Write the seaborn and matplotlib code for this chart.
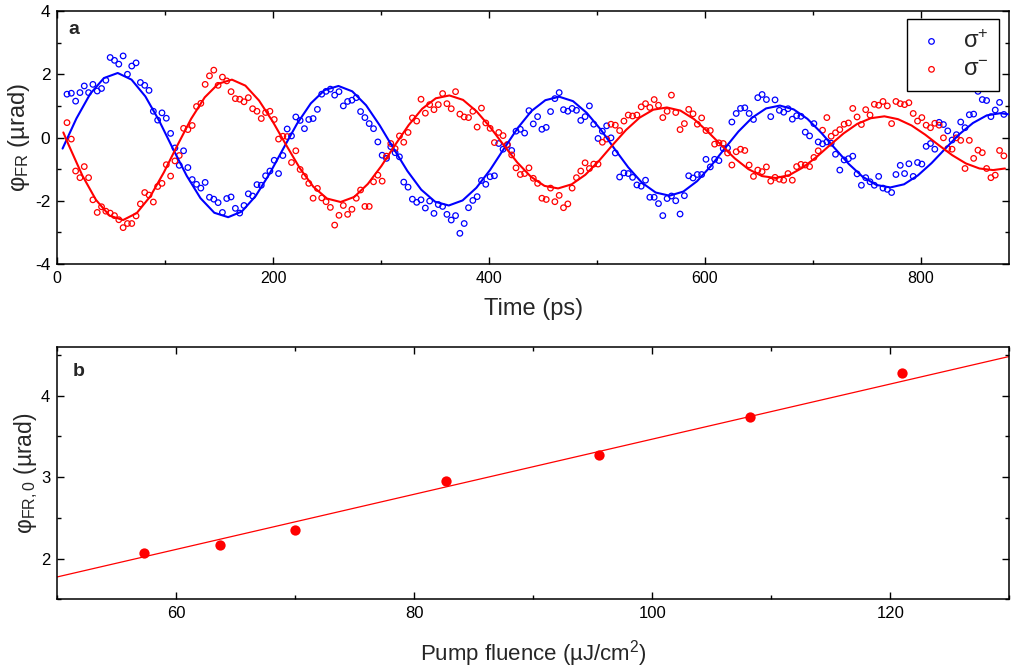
import numpy as np
import pandas as pd
import matplotlib
matplotlib.use("Agg")
import matplotlib.pyplot as plt
from matplotlib.ticker import MultipleLocator
import seaborn as sns

# ---------------- data ----------------
time_ps = [
    9, 13, 17, 21, 25, 29, 33, 37, 41, 45,
    49, 53, 57, 61, 65, 69, 73, 77, 81, 85,
    89, 93, 97, 101, 105, 109, 113, 117, 121, 125,
    129, 133, 137, 141, 145, 149, 153, 157, 161, 165,
    169, 173, 177, 181, 185, 189, 193, 197, 201, 205,
    209, 213, 217, 221, 225, 229, 233, 237, 241, 245,
    249, 253, 257, 261, 265, 269, 273, 277, 281, 285,
    289, 293, 297, 301, 305, 309, 313, 317, 321, 325,
    329, 333, 337, 341, 345, 349, 353, 357, 361, 365,
    369, 373, 377, 381, 385, 389, 393, 397, 401, 405,
    409, 413, 417, 421, 425, 429, 433, 437, 441, 445,
    449, 453, 457, 461, 465, 469, 473, 477, 481, 485,
    489, 493, 497, 501, 505, 509, 513, 517, 521, 525,
    529, 533, 537, 541, 545, 549, 553, 557, 561, 565,
    569, 573, 577, 581, 585, 589, 593, 597, 601, 605,
    609, 613, 617, 621, 625, 629, 633, 637, 641, 645,
    649, 653, 657, 661, 665, 669, 673, 677, 681, 685,
    689, 693, 697, 701, 705, 709, 713, 717, 721, 725,
    729, 733, 737, 741, 745, 749, 753, 757, 761, 765,
    769, 773, 777, 781, 785, 789, 793, 797, 801, 805,
    809, 813, 817, 821, 825, 829, 833, 837, 841, 845,
    849, 853, 857, 861, 865, 869, 873, 877,
]

sigma_plus = [
    1.37, 1.40, 1.15, 1.42, 1.63, 1.42, 1.68, 1.47, 1.55, 1.81,
    2.53, 2.44, 2.32, 2.58, 2.00, 2.26, 2.36, 1.74, 1.65, 1.49,
    0.83, 0.55, 0.78, 0.61, 0.13, -0.33, -0.88, -0.42, -0.95, -1.33,
    -1.48, -1.60, -1.42, -1.89, -1.95, -2.06, -2.37, -1.93, -1.88, -2.24,
    -2.39, -2.15, -1.78, -1.85, -1.49, -1.51, -1.21, -1.06, -0.72, -1.14,
    -0.57, 0.27, 0.05, 0.65,
    0.54, 0.28, 0.57, 0.60, 0.89, 1.37, 1.46, 1.53, 1.34, 1.45,
    1.00, 1.14, 1.18, 1.26, 0.82, 0.63, 0.44, 0.28, -0.14, -0.56,
    -0.66, -0.29, -0.48, -0.61, -1.41, -1.57, -1.95, -2.05, -1.97, -2.23,
    -2.01, -2.40, -2.12, -2.18, -2.43, -2.61, -2.47, -3.03, -2.72, -2.22,
    -1.99, -1.87, -1.36, -1.48, -1.24, -1.21, -0.19, -0.37, -0.24, -0.41,
    0.20, 0.26, 0.14, 0.85,
    0.43, 0.66, 0.26, 0.32, 0.82, 1.23, 1.42, 0.88, 0.83, 0.92,
    0.86, 0.54, 0.66, 1.00, 0.42, -0.03, 0.20, 0.37, -0.01, -0.49,
    -1.25, -1.12, -1.14, -1.26, -1.50, -1.54, -1.35, -1.89, -1.89, -2.09,
    -2.47, -1.93, -1.85, -2.00, -2.42, -1.84, -1.21, -1.28, -1.17, -1.17,
    -0.69, -0.93, -0.69, -0.73, -0.35, -0.33, 0.49, 0.76, 0.92, 0.94,
    0.76, 0.57, 1.26,
    1.36, 1.20, 0.66, 1.19, 0.86, 0.80, 0.91, 0.58, 0.69, 0.67,
    0.17, 0.05, 0.44, -0.14, -0.20, -0.14, -0.18, -0.53, -1.03, -0.71,
    -0.67, -0.59, -1.15, -1.51, -1.27, -1.40, -1.51, -1.23, -1.60, -1.64,
    -1.74, -1.17, -0.88, -1.14, -0.83, -1.23, -0.79, -0.84, -0.28, -0.19,
    -0.37, 0.48, 0.41, 0.21, -0.08, 0.09, 0.49, 0.31, 0.72, 0.74,
    1.46, 1.20, 1.17, 0.66, 0.87, 1.11, 0.73,
]

sigma_minus = [
    0.47, -0.05, -1.06, -1.27, -0.92, -1.27, -1.97, -2.37, -2.19, -2.33,
    -2.39, -2.47, -2.60, -2.85, -2.72, -2.72, -2.48, -2.10, -1.74, -1.82,
    -2.04, -1.55, -1.45, -0.86, -1.22, -0.74, -0.57, 0.29, 0.25, 0.38,
    0.98, 1.08, 1.68, 1.95, 2.13, 1.65, 1.91, 1.79, 1.45, 1.23,
    1.21, 1.13, 1.26, 0.91, 0.83, 0.60, 0.79, 0.83, 0.57, -0.05,
    0.04, 0.03, -0.79, -0.42, -1.01,
    -1.23, -1.45, -1.92, -1.61, -1.91, -2.03, -2.21, -2.77, -2.46, -2.15,
    -2.43, -2.27, -1.92, -1.66, -2.18, -2.18, -1.40, -1.19, -1.38, -0.59,
    -0.19, -0.35, 0.05, -0.15, 0.16, 0.62, 0.52, 1.21, 0.77, 1.04,
    0.88, 1.04, 1.39, 1.07, 0.91, 1.45, 0.74, 0.65, 0.63, 0.83,
    0.33, 0.93, 0.46, 0.29, -0.16, 0.16, 0.06, -0.22, -0.55, -0.96,
    -1.17, -1.14, -0.96,
    -1.29, -1.45, -1.92, -1.96, -1.60, -2.03, -1.83, -2.22, -2.10, -1.60,
    -1.27, -1.06, -0.80, -0.98, -0.84, -0.84, -0.15, -0.05, 0.42, 0.39,
    0.22, 0.52, 0.71, 0.68, 0.71, 0.97, 1.07, 0.95, 1.20, 1.02,
    0.63, 0.83, 1.34, 0.79, 0.25, 0.44, 0.89, 0.75, 0.42, 0.62,
    0.22, 0.22, -0.21, -0.17, -0.19, -0.49, -0.87, -0.45, -0.37, -0.41,
    -0.87, -1.23, -1.03,
    -1.08, -0.93, -1.38, -1.26, -1.32, -1.35, -1.14, -1.35, -0.92, -0.85,
    -0.87, -0.92, -0.63, -0.42, 0.23, 0.63, 0.04, 0.15, 0.25, 0.42,
    0.46, 0.92, 0.65, 0.41, 0.88, 0.71, 1.05, 1.02, 1.14, 1.00,
    0.44, 1.14, 1.07, 1.04, 1.10, 0.76, 0.52, 0.63, 0.39, 0.31,
    0.45, 0.39, -0.01, -0.35, -0.37, -0.01, -0.09, -0.98, -0.09, -0.66,
    -0.40, -0.48, -0.98, -1.27, -1.19, -0.41, -0.58,
]

# fitted curves
fit_plus_t = [
    4.9, 17.7, 30.5, 43.2, 56.0, 68.8, 81.6, 94.4, 107.1, 119.9,
    132.7, 145.5, 158.3, 171.0, 183.8, 196.6, 209.4, 222.2, 234.9, 247.7,
    260.5, 273.3, 286.1, 298.8, 311.6, 324.4, 337.2, 350.0, 362.7, 375.5,
    388.3, 401.1, 413.9, 426.6, 439.4, 452.2, 465.0, 477.8, 490.5, 503.3,
    516.1, 528.9, 541.7, 554.4, 567.2, 580.0, 592.8, 605.6, 618.3, 631.1,
    643.9, 656.7, 669.5, 682.2, 695.0, 707.8, 720.6, 733.4, 746.1, 758.9,
    771.7, 784.5, 797.3, 810.0, 822.8, 835.6, 848.4, 861.2, 873.9, 882.0,
]
fit_plus_y = [
    -0.35, 0.60, 1.38, 1.88, 2.04, 1.83, 1.30, 0.53, -0.35, -1.21,
    -1.92, -2.38, -2.52, -2.34, -1.85, -1.15, -0.35, 0.44, 1.08, 1.50,
    1.63, 1.46, 1.02, 0.38, -0.35, -1.06, -1.65, -2.03, -2.15, -1.99,
    -1.59, -1.02, -0.35, 0.30, 0.84, 1.18, 1.29, 1.15, 0.78, 0.26,
    -0.35, -0.94, -1.43, -1.74, -1.84, -1.71, -1.38, -0.90, -0.35, 0.19,
    0.63, 0.92, 1.01, 0.89, 0.59, 0.15, -0.35, -0.84, -1.24, -1.50,
    -1.58, -1.48, -1.20, -0.81, -0.35, 0.10, 0.46, 0.70, 0.77, 0.73,
]
fit_minus_t = [
    5.6, 10.6, 23.2, 35.8, 48.4, 61.0, 73.6, 86.2, 98.8, 111.4, 124.0,
    136.6, 149.2, 161.8, 174.3, 186.9, 199.5, 212.1, 224.7, 237.3, 249.9,
    262.5, 275.1, 287.7, 300.3, 312.9, 325.5, 338.1, 350.7, 363.3, 375.9,
    388.4, 401.0, 413.6, 426.2, 438.8, 451.4, 464.0, 476.6, 489.2, 501.8,
    514.4, 527.0, 539.6, 552.2, 564.8, 577.4, 590.0, 602.5, 615.1, 627.7,
    640.3, 652.9, 665.5, 678.1, 690.7, 703.3, 715.9, 728.5, 741.1, 753.7,
    766.3, 778.9, 791.5, 804.1, 816.6, 829.2, 841.8, 854.4, 867.0, 878.0,
]
fit_minus_y = [
    0.16, -0.24, -1.20, -1.97, -2.47, -2.61, -2.39, -1.86, -1.10, -0.24, 0.59,
    1.27, 1.70, 1.83, 1.64, 1.17, 0.51, -0.24, -0.97, -1.56, -1.93,
    -2.04, -1.88, -1.47, -0.90, -0.24, 0.39, 0.91, 1.24, 1.33, 1.19,
    0.83, 0.33, -0.24, -0.79, -1.24, -1.53, -1.61, -1.48, -1.18, -0.74,
    -0.24, 0.24, 0.63, 0.88, 0.95, 0.85, 0.58, 0.19, -0.24, -0.66,
    -1.00, -1.22, -1.28, -1.19, -0.95, -0.62, -0.24, 0.13, 0.43, 0.61,
    0.67, 0.58, 0.38, 0.09, -0.24, -0.56, -0.82, -0.98, -1.03, -0.98,
]

# panel b
fluence = [57.3, 63.7, 70.0, 82.7, 95.5, 108.2, 121.0]
phi0 = [2.07, 2.17, 2.35, 2.95, 3.27, 3.74, 4.28]
fit_fluence = [50.0, 130.0]
fit_phi0 = [1.775, 4.48]

BLUE = "#0000FF"
RED = "#FF0000"

# ---------------- style ----------------
sns.set_style("ticks")
plt.rcParams["font.family"] = ["Liberation Sans", "DejaVu Sans"]
plt.rcParams["mathtext.fontset"] = "custom"
plt.rcParams["mathtext.rm"] = "Liberation Sans"
plt.rcParams["mathtext.it"] = "Liberation Sans:italic"
plt.rcParams["mathtext.bf"] = "Liberation Sans:bold"
plt.rcParams["axes.unicode_minus"] = False

fig = plt.figure(figsize=(10.12, 6.68), dpi=100)
ax1 = fig.add_axes([0.0566, 0.6048, 0.9407, 0.3787])
ax2 = fig.add_axes([0.0566, 0.1028, 0.9407, 0.3782])

df = pd.DataFrame({"t": time_ps, "plus": sigma_plus, "minus": sigma_minus})

sns.scatterplot(data=df, x="t", y="plus", ax=ax1, marker="o", s=16,
                facecolor="none", edgecolor=BLUE, linewidth=0.9,
                label="σ$^{+}$", zorder=3)
sns.scatterplot(data=df, x="t", y="minus", ax=ax1, marker="o", s=16,
                facecolor="none", edgecolor=RED, linewidth=0.9,
                label="σ$^{-}$", zorder=3)
sns.lineplot(x=fit_plus_t, y=fit_plus_y, ax=ax1, color=BLUE, linewidth=1.5,
             legend=False, zorder=4)
sns.lineplot(x=fit_minus_t, y=fit_minus_y, ax=ax1, color=RED, linewidth=1.5,
             legend=False, zorder=4)

ax1.set_xlim(0, 882)
ax1.set_ylim(-4, 4)
ax1.xaxis.set_major_locator(MultipleLocator(200))
ax1.xaxis.set_minor_locator(MultipleLocator(100))
ax1.yaxis.set_major_locator(MultipleLocator(2))
ax1.yaxis.set_minor_locator(MultipleLocator(1))
ax1.set_xlabel("Time (ps)", fontsize=17, labelpad=9)
ax1.set_ylabel("φ$_{\\mathregular{FR}}$ (µrad)", fontsize=17)
ax1.yaxis.set_label_coords(-0.0266, 0.5)
ax1.text(0.012, 0.925, "a", transform=ax1.transAxes, fontsize=14,
         fontweight="bold", va="center", ha="left")

leg = ax1.legend(loc="upper right", bbox_to_anchor=(0.9892, 0.968),
                 frameon=True, fancybox=False, framealpha=1,
                 edgecolor="black", fontsize=17, handlelength=1.2,
                 handletextpad=0.72, borderpad=0.45, labelspacing=0.25,
                 borderaxespad=0.0, markerscale=1.0)
leg.get_frame().set_linewidth(1.0)

# panel b
sns.scatterplot(x=fluence, y=phi0, ax=ax2, color=RED, s=55, linewidth=0,
                zorder=3)
sns.lineplot(x=fit_fluence, y=fit_phi0, ax=ax2, color=RED, linewidth=0.9,
             zorder=2)
ax2.set_xlim(50, 130)
ax2.set_ylim(1.5, 4.6)
ax2.xaxis.set_major_locator(MultipleLocator(20))
ax2.xaxis.set_minor_locator(MultipleLocator(10))
ax2.yaxis.set_major_locator(MultipleLocator(1))
ax2.yaxis.set_minor_locator(MultipleLocator(0.5))
ax2.set_xlabel("Pump fluence (µJ/cm$^{\\mathregular{2}}$)", fontsize=16,
               labelpad=12)
ax2.set_ylabel("φ$_{\\mathregular{FR,0}}$ (µrad)", fontsize=16.5)
ax2.yaxis.set_label_coords(-0.018, 0.5)
ax2.text(0.016, 0.9, "b", transform=ax2.transAxes, fontsize=14,
         fontweight="bold", va="center", ha="left")

for ax, fs in ((ax1, 11.5), (ax2, 12)):
    for sp in ax.spines.values():
        sp.set_visible(True)
        sp.set_linewidth(1.1)
        sp.set_color("black")
    ax.tick_params(which="both", direction="in", top=True, right=True,
                   width=1.0, colors="black", labelsize=fs)
    ax.tick_params(which="major", length=5, pad=5)
    ax.tick_params(which="minor", length=3)
    ax.grid(False)
ax1.tick_params(axis="y", labelsize=12.5)

fig.savefig("out.png", dpi=100)
